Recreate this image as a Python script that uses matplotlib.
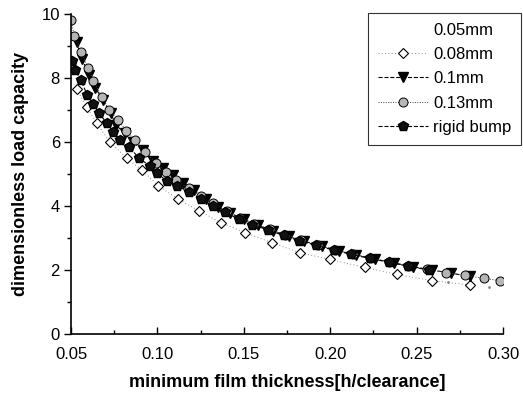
import matplotlib
matplotlib.use("Agg")
import matplotlib.pyplot as plt
from matplotlib.ticker import MultipleLocator

plt.rcParams['font.family'] = ['Liberation Sans', 'DejaVu Sans']

# 0.05mm - only a few stray dots are visible
x005 = [0.268, 0.292]
y005 = [1.63, 1.48]

# 0.08mm (open diamonds)
x008 = [0.0533, 0.059, 0.0649, 0.0726, 0.0822, 0.0909, 0.1005, 0.1121, 0.1243,
        0.1367, 0.1507, 0.1662, 0.1826, 0.1999, 0.2202, 0.2386, 0.2588, 0.281]
y008 = [7.65, 7.1, 6.58, 6.0, 5.49, 5.13, 4.63, 4.21, 3.85,
        3.48, 3.17, 2.85, 2.54, 2.33, 2.08, 1.86, 1.67, 1.53]

# 0.1mm (filled triangles)
x01 = [0.0533, 0.0562, 0.0606, 0.064, 0.0686, 0.0729, 0.0761, 0.081, 0.0858, 0.0916,
       0.0974, 0.1032, 0.109, 0.1148, 0.121, 0.128, 0.135, 0.142, 0.150, 0.158,
       0.167, 0.176, 0.185, 0.195, 0.205, 0.215, 0.226, 0.237, 0.248, 0.259, 0.270, 0.281]
y01 = [9.13, 8.6, 8.1, 7.7, 7.3, 6.9, 6.53, 6.27, 6.0, 5.75,
       5.4, 5.18, 4.97, 4.73, 4.5, 4.22, 3.98, 3.78, 3.58, 3.4,
       3.22, 3.05, 2.9, 2.74, 2.6, 2.47, 2.34, 2.22, 2.1, 2.0, 1.9, 1.8]

# 0.13mm (grey circles)
x013 = [0.050, 0.052, 0.056, 0.060, 0.063, 0.068, 0.072, 0.077, 0.082, 0.087,
        0.093, 0.099, 0.105, 0.111, 0.118, 0.125, 0.132, 0.140, 0.148, 0.156,
        0.165, 0.174, 0.183, 0.193, 0.203, 0.213, 0.223, 0.234, 0.245, 0.256,
        0.267, 0.278, 0.289, 0.298]
y013 = [9.8, 9.3, 8.8, 8.3, 7.9, 7.4, 7.0, 6.7, 6.35, 6.05,
        5.68, 5.35, 5.05, 4.8, 4.55, 4.3, 4.08, 3.85, 3.62, 3.45,
        3.27, 3.1, 2.94, 2.78, 2.63, 2.5, 2.38, 2.25, 2.12, 2.02,
        1.92, 1.83, 1.74, 1.67]

# rigid bump (filled pentagons)
xrb = [0.0504, 0.0523, 0.0556, 0.0594, 0.0626, 0.0664, 0.0707, 0.0745, 0.0784, 0.0838,
       0.0895, 0.0957, 0.0996, 0.1054, 0.1112, 0.118, 0.125, 0.132, 0.139, 0.147,
       0.155, 0.164, 0.173, 0.182, 0.192, 0.202, 0.212, 0.223, 0.234, 0.245, 0.257]
yrb = [8.53, 8.25, 7.94, 7.47, 7.2, 6.9, 6.58, 6.32, 6.06, 5.83,
       5.49, 5.25, 5.04, 4.78, 4.63, 4.45, 4.22, 4.0, 3.8, 3.6,
       3.42, 3.25, 3.08, 2.92, 2.77, 2.62, 2.49, 2.36, 2.24, 2.12, 2.0]

fig = plt.figure(figsize=(5.23, 3.99), dpi=100)
ax = fig.add_axes([0.1358, 0.1629, 0.826, 0.802])

ax.plot(x005, y005, linestyle='none', marker='.', markersize=2, color='#888888', label='0.05mm')
ax.plot(x008, y008, linestyle=(0, (1, 3)), linewidth=0.6, color='#666666',
        marker='D', markersize=5.5, markerfacecolor='white', markeredgecolor='black',
        markeredgewidth=0.8, label='0.08mm')
ax.plot(x01, y01, linestyle='--', linewidth=0.8, color='black',
        marker='v', markersize=6.5, label='0.1mm')
ax.plot(x013, y013, linestyle=(0, (1, 1.5)), linewidth=0.7, color='#444444',
        marker='o', markersize=6.5, markerfacecolor='#b5b5b5', markeredgecolor='black',
        markeredgewidth=0.7, label='0.13mm')
ax.plot(xrb, yrb, linestyle='--', linewidth=0.8, color='black',
        marker='p', markersize=7, markerfacecolor='#111111', markeredgecolor='black',
        label='rigid bump')

ax.set_xlim(0.05, 0.30)
ax.set_ylim(0, 10)
ax.xaxis.set_major_locator(MultipleLocator(0.05))
ax.xaxis.set_minor_locator(MultipleLocator(0.025))
ax.yaxis.set_major_locator(MultipleLocator(2))
ax.yaxis.set_minor_locator(MultipleLocator(1))
ax.xaxis.set_major_formatter(plt.FuncFormatter(lambda v, p: f"{v:.2f}"))

ax.spines['top'].set_visible(False)
ax.spines['right'].set_visible(False)
ax.spines['left'].set_linewidth(1.2)
ax.spines['bottom'].set_linewidth(1.2)
ax.tick_params(axis='x', which='major', direction='in', length=5, width=1, labelsize=12, pad=9)
ax.tick_params(axis='x', which='minor', direction='in', length=3, width=1)
ax.tick_params(axis='y', which='major', direction='out', length=5, width=1, labelsize=12, pad=3)
ax.tick_params(axis='y', which='minor', direction='out', length=3, width=1)

ax.set_xlabel('minimum film thickness[h/clearance]', fontsize=13, fontweight='bold', labelpad=9)
ax.set_ylabel('dimensionless load capacity', fontsize=13, fontweight='bold', labelpad=9)

leg = fig.legend(loc='upper left', bbox_to_anchor=(368 / 523, 1 - 13 / 399), fontsize=12,
                 frameon=True, fancybox=False, edgecolor='black', handlelength=3.0,
                 handletextpad=0.3, labelspacing=0.55, borderpad=0.6, borderaxespad=0)
leg.get_frame().set_linewidth(0.8)
leg.legend_handles[0].set_visible(False)

fig.savefig('out.png', dpi=100)
